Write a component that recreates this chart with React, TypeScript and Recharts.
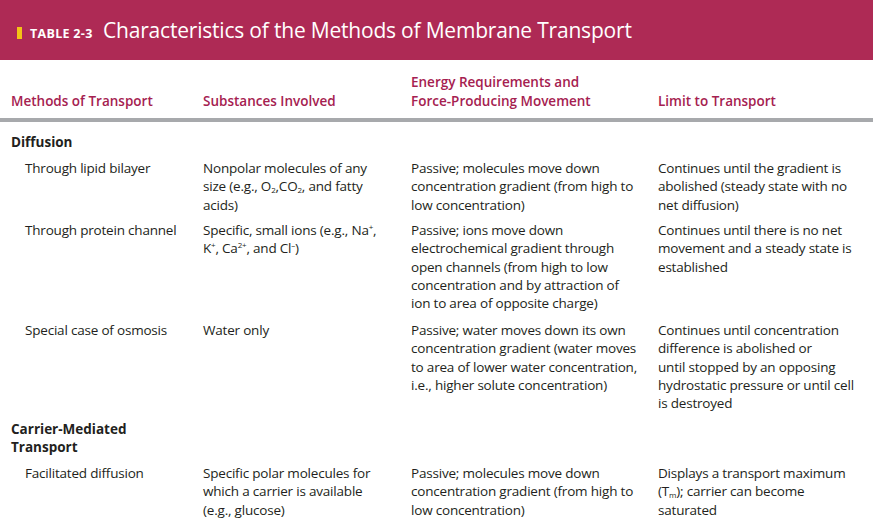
import React from "react";
import { Surface, Rectangle } from "recharts";

const title = "Characteristics of the Methods of Membrane Transport";
const tableLabel = "TABLE 2-3";
const columns = ["Methods of Transport", "Substances Involved", "Energy Requirements and\nForce-Producing Movement", "Limit to Transport"];
const columnX = [11, 203, 411, 658];

const sections = [
  { label: "Diffusion", top: 133 },
  { label: "Carrier-Mediated\nTransport", top: 420 },
];

const rows: { top: number; cells: React.ReactNode[] }[] = [
  {
    top: 159,
    cells: [
      "Through lipid bilayer",
      <>Nonpolar molecules of any<br />size (e.g., O<sub>2</sub>,CO<sub>2</sub>, and fatty<br />acids)</>,
      "Passive; molecules move down\nconcentration gradient (from high to\nlow concentration)",
      "Continues until the gradient is\nabolished (steady state with no\nnet diffusion)",
    ],
  },
  {
    top: 221,
    cells: [
      "Through protein channel",
      <>Specific, small ions (e.g., Na<sup>+</sup>,<br />K<sup>+</sup>, Ca<sup>2+</sup>, and Cl<sup>–</sup>)</>,
      "Passive; ions move down\nelectrochemical gradient through\nopen channels (from high to low\nconcentration and by attraction of\nion to area of opposite charge)",
      "Continues until there is no net\nmovement and a steady state is\nestablished",
    ],
  },
  {
    top: 321,
    cells: [
      "Special case of osmosis",
      "Water only",
      "Passive; water moves down its own\nconcentration gradient (water moves\nto area of lower water concentration,\ni.e., higher solute concentration)",
      "Continues until concentration\ndifference is abolished or\nuntil stopped by an opposing\nhydrostatic pressure or until cell\nis destroyed",
    ],
  },
  {
    top: 464,
    cells: [
      "Facilitated diffusion",
      "Specific polar molecules for\nwhich a carrier is available\n(e.g., glucose)",
      "Passive; molecules move down\nconcentration gradient (from high to\nlow concentration)",
      <>Displays a transport maximum<br />(T<sub>m</sub>); carrier can become<br />saturated</>,
    ],
  },
];

const font = "'Open Sans', 'Noto Sans', sans-serif";
const maroon = "#ae2a55";
const magenta = "#a52150";

export default function App() {
  return (
    <div style={{ position: "absolute", left: 0, top: 0, width: 873, height: 524, overflow: "hidden", background: "#fff", fontFamily: font, color: "#231f20" }}>
      <Surface width={873} height={524} viewBox={{ x: 0, y: 0, width: 873, height: 524 }} style={{ position: "absolute", left: 0, top: 0 }}>
        <Rectangle x={0} y={0} width={873} height={60} fill={maroon} />
        <Rectangle x={17} y={27} width={5} height={12} fill="#f3c316" />
        <Rectangle x={0} y={118} width={873} height={4} fill="#a7a9ac" />
      </Surface>
      <div style={{ position: "absolute", left: 30, top: 25, color: "#fff", fontWeight: 700, fontSize: 12.5, letterSpacing: 0.3 }}>{tableLabel}</div>
      <div style={{ position: "absolute", left: 103, top: 16, color: "#fff", fontSize: 21, letterSpacing: -0.2 }}>{title}</div>
      {columns.map((c, i) => (
        <div key={c} style={{ position: "absolute", left: columnX[i], bottom: 524 - 111, color: magenta, fontWeight: 600, fontSize: 13.5, lineHeight: "19px", whiteSpace: "pre" }}>{c}</div>
      ))}
      {sections.map((s) => (
        <div key={s.label} style={{ position: "absolute", left: 11, top: s.top, fontWeight: 700, fontSize: 13.5, lineHeight: "18px", whiteSpace: "pre" }}>{s.label}</div>
      ))}
      {rows.map((r, ri) =>
        r.cells.map((cell, ci) => (
          <div key={ri + "-" + ci} style={{ position: "absolute", left: ci === 0 ? 25 : columnX[ci], top: r.top, fontSize: 13.5, lineHeight: "18.3px", whiteSpace: "pre", letterSpacing: -0.2 }}>
            {typeof cell === "string" ? cell : <span style={{ whiteSpace: "normal" }}>{cell}</span>}
          </div>
        ))
      )}
      <style>{`sub,sup{font-size:8px;line-height:0;vertical-align:0;position:relative}sub{top:2px}sup{top:-5px}`}</style>
    </div>
  );
}
